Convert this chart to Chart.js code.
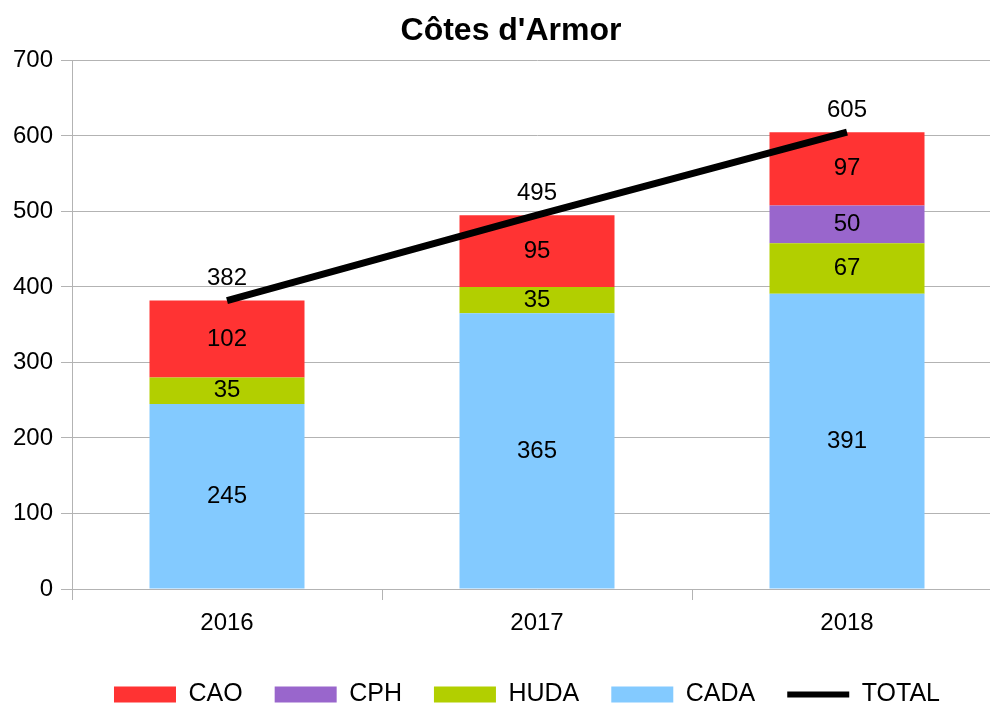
<!DOCTYPE html>
<html>
<head>
<meta charset="utf-8">
<script src="https://cdn.jsdelivr.net/npm/chart.js@4"></script>
<style>
html,body{margin:0;padding:0;overflow:hidden;background:#fff;}
#wrap{width:1022px;height:704px;}
</style>
</head>
<body>
<div id="wrap"><canvas id="c" width="1022" height="704" style="width:1022px;height:704px"></canvas></div>
<script>
const categories = ['2016', '2017', '2018'];
const cada = [245, 365, 391];
const huda = [35, 35, 67];
const cph = [null, null, 50];
const cao = [102, 95, 97];
const total = [382, 495, 605];
const yTicks = [0, 100, 200, 300, 400, 500, 600, 700];
const chartTitle = "Côtes d'Armor";

const FONT = "'Liberation Sans', Arial, sans-serif";
const GRID = '#b3b3b3';

const labelPlugin = {
  id: 'valueLabels',
  afterDatasetsDraw(chart) {
    const ctx = chart.ctx;
    ctx.save();
    ctx.font = '24px ' + FONT;
    ctx.fillStyle = '#000';
    ctx.textAlign = 'center';
    ctx.textBaseline = 'middle';
    chart.data.datasets.forEach((ds, di) => {
      const meta = chart.getDatasetMeta(di);
      meta.data.forEach((el, i) => {
        const v = ds.data[i];
        if (v === null || v === undefined || v === 0) return;
        const p = el.getProps(['x', 'y', 'base'], true);
        if (ds.type === 'line') {
          ctx.fillText(String(v), p.x, p.y - 22);
        } else {
          ctx.fillText(String(v), p.x, (p.y + p.base) / 2);
        }
      });
    });
    ctx.restore();
  }
};

// shift the legend block slightly to the right, as in the reference
const legendShift = {
  id: 'legendShift',
  afterLayout(chart) {
    const lg = chart.legend;
    if (lg) { lg.left += 16; lg.right += 16; }
  }
};

const legendOrder = [3, 2, 1, 0, 4];

new Chart(document.getElementById('c'), {
  data: {
    labels: categories,
    datasets: [
      {type: 'bar', label: 'CADA', data: cada, backgroundColor: '#83caff', order: 1, stack: 's'},
      {type: 'bar', label: 'HUDA', data: huda, backgroundColor: '#b2cf00', order: 1, stack: 's'},
      {type: 'bar', label: 'CPH', data: cph, backgroundColor: '#9966cc', order: 1, stack: 's'},
      {type: 'bar', label: 'CAO', data: cao, backgroundColor: '#ff3333', order: 1, stack: 's'},
      {type: 'line', label: 'TOTAL', data: total, borderColor: '#000', backgroundColor: '#000', borderWidth: 7, pointRadius: 0, tension: 0, order: 0, stack: 't', borderCapStyle: 'butt'}
    ]
  },
  options: {
    responsive: false,
    animation: false,
    devicePixelRatio: 1,
    layout: {padding: {left: 0, right: 0, top: 0, bottom: -13}},
    datasets: {bar: {barPercentage: 0.5, categoryPercentage: 1.0}},
    scales: {
      x: {
        stacked: true,
        offset: true,
        afterFit: s => { s.height = 61; },
        grid: {display: true, drawOnChartArea: false, drawTicks: true, tickLength: 11, color: GRID, offset: true},
        border: {display: true, color: GRID},
        ticks: {font: {family: FONT, size: 24}, color: '#000', padding: 9}
      },
      y: {
        stacked: true,
        min: 0,
        max: 700,
        afterBuildTicks: s => { s.ticks = yTicks.map(v => ({value: v})); },
        afterFit: s => { s.width = 72; },
        grid: {color: GRID, tickLength: 11},
        border: {display: true, color: GRID},
        ticks: {font: {family: FONT, size: 24}, color: '#000', padding: 8}
      },
      yR: {
        type: 'linear',
        position: 'right',
        display: true,
        grid: {display: false},
        border: {display: false},
        ticks: {display: false},
        afterFit: s => { s.width = 20; }
      }
    },
    plugins: {
      title: {
        display: true,
        text: chartTitle,
        color: '#000',
        font: {family: FONT, size: 32, weight: 'bold'},
        padding: {top: 12, bottom: 10}
      },
      legend: {
        display: true,
        position: 'bottom',
        fullSize: true,
        labels: {
          font: {family: FONT, size: 25},
          color: '#000',
          usePointStyle: true,
          pointStyleWidth: 62,
          boxWidth: 62,
          boxHeight: 16,
          padding: 32,
          generateLabels: chart => legendOrder.map(i => {
            const ds = chart.data.datasets[i];
            const isLine = ds.type === 'line';
            return {
              text: ds.label,
              fillStyle: isLine ? '#000' : ds.backgroundColor,
              strokeStyle: '#000',
              lineWidth: isLine ? 6 : 0,
              lineCap: 'butt',
              pointStyle: isLine ? 'line' : 'rect',
              fontColor: '#000',
              hidden: false,
              datasetIndex: i
            };
          })
        }
      },
      tooltip: {enabled: false}
    }
  },
  plugins: [labelPlugin, legendShift]
});
</script>
</body>
</html>
